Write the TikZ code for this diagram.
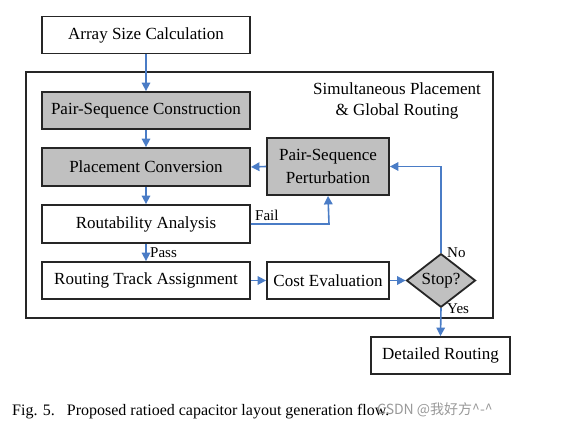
\documentclass[tikz,border=0pt]{standalone}
\usepackage{fontspec}
\setmainfont{Liberation Serif}
\newfontfamily\cjkfont{Noto Sans CJK SC}
\usetikzlibrary{shapes.geometric,arrows.meta}
\definecolor{flowblue}{HTML}{4A7CC6}
\definecolor{boxgray}{HTML}{C0C0C0}
\begin{document}
\begin{tikzpicture}[x=1pt,y=-1pt,
  box/.style={draw=black!85,line width=1.8pt,minimum width=208pt,minimum height=37pt,inner sep=0pt,font=\fontsize{17}{20}\selectfont,align=center},
  graybox/.style={box,fill=boxgray},
  smallbox/.style={box,minimum width=122pt},
  flow/.style={draw=flowblue,line width=1.6pt,-{Triangle[length=8.5pt,width=8.5pt]}},
  lbl/.style={font=\fontsize{15}{18}\selectfont,inner sep=1pt}]
\useasboundingbox (0,0) rectangle (571,428);
\node[draw=black!85,line width=1.5pt,minimum width=467pt,minimum height=246pt,inner sep=0pt] (frame) at (259.5,195) {};
\node[box] (asc) at (146,35) {Array Size Calculation};
\node[graybox] (psc) at (146,110.5) {Pair-Sequence Construction};
\node[graybox,minimum height=38pt] (pc) at (146,167) {Placement Conversion};
\node[graybox,minimum width=122pt,minimum height=57pt,font=\fontsize{17}{23}\selectfont] (psp) at (328,166.5) {Pair-Sequence\\Perturbation};
\node[box,minimum height=38pt] (ra) at (146,224) {Routability Analysis};
\node[box] (rta) at (146,280.5) {Routing Track Assignment};
\node[smallbox] (ce) at (328,280.5) {Cost Evaluation};
\node[diamond,draw=black!85,line width=1.8pt,fill=boxgray,minimum width=69pt,minimum height=37pt,inner sep=0pt,font=\fontsize{17}{20}\selectfont] (stop) at (441,280.5) {Stop?};
\node[box,minimum width=139pt] (dr) at (440.5,355.5) {Detailed Routing};
\node[font=\fontsize{17}{21}\selectfont,align=center] (title) at (397,101) {Simultaneous Placement\\\& Global Routing};
\coordinate (failc) at (329,224);
\draw[flow] (asc.south) -- (psc.north);
\draw[flow] (psc.south) -- (pc.north);
\draw[flow] (pc.south) -- (ra.north);
\draw[flow] (ra.south) -- (rta.north);
\node[lbl,anchor=west] (pass) at (149,253) {Pass};
\draw[flow] (psp.west) -- (pc.east);
\draw[flow] (ra.east) -- (failc) -- (psp.south);
\node[lbl,anchor=west] (fail) at (254,215) {Fail};
\draw[flow] (rta.east) -- (ce.west);
\draw[flow] (ce.east) -- (stop.west);
\draw[flow] (stop.north) |- (psp.east);
\node[lbl,anchor=west] (no) at (446,253) {No};
\draw[flow] (stop.south) -- (dr.north);
\node[lbl,anchor=west] (yes) at (446,309) {Yes};
\node[anchor=west,font=\fontsize{16}{19}\selectfont,inner sep=0pt] (cap) at (12,412) {Fig. 5.\hspace{12pt}Proposed ratioed capacitor layout generation flow.};
\node[anchor=west,font=\fontsize{14}{17}\cjkfont,text=black!40,inner sep=0pt] (wm) at (377,410) {CSDN @我好方\textasciicircum-\textasciicircum};
\end{tikzpicture}
\end{document}
